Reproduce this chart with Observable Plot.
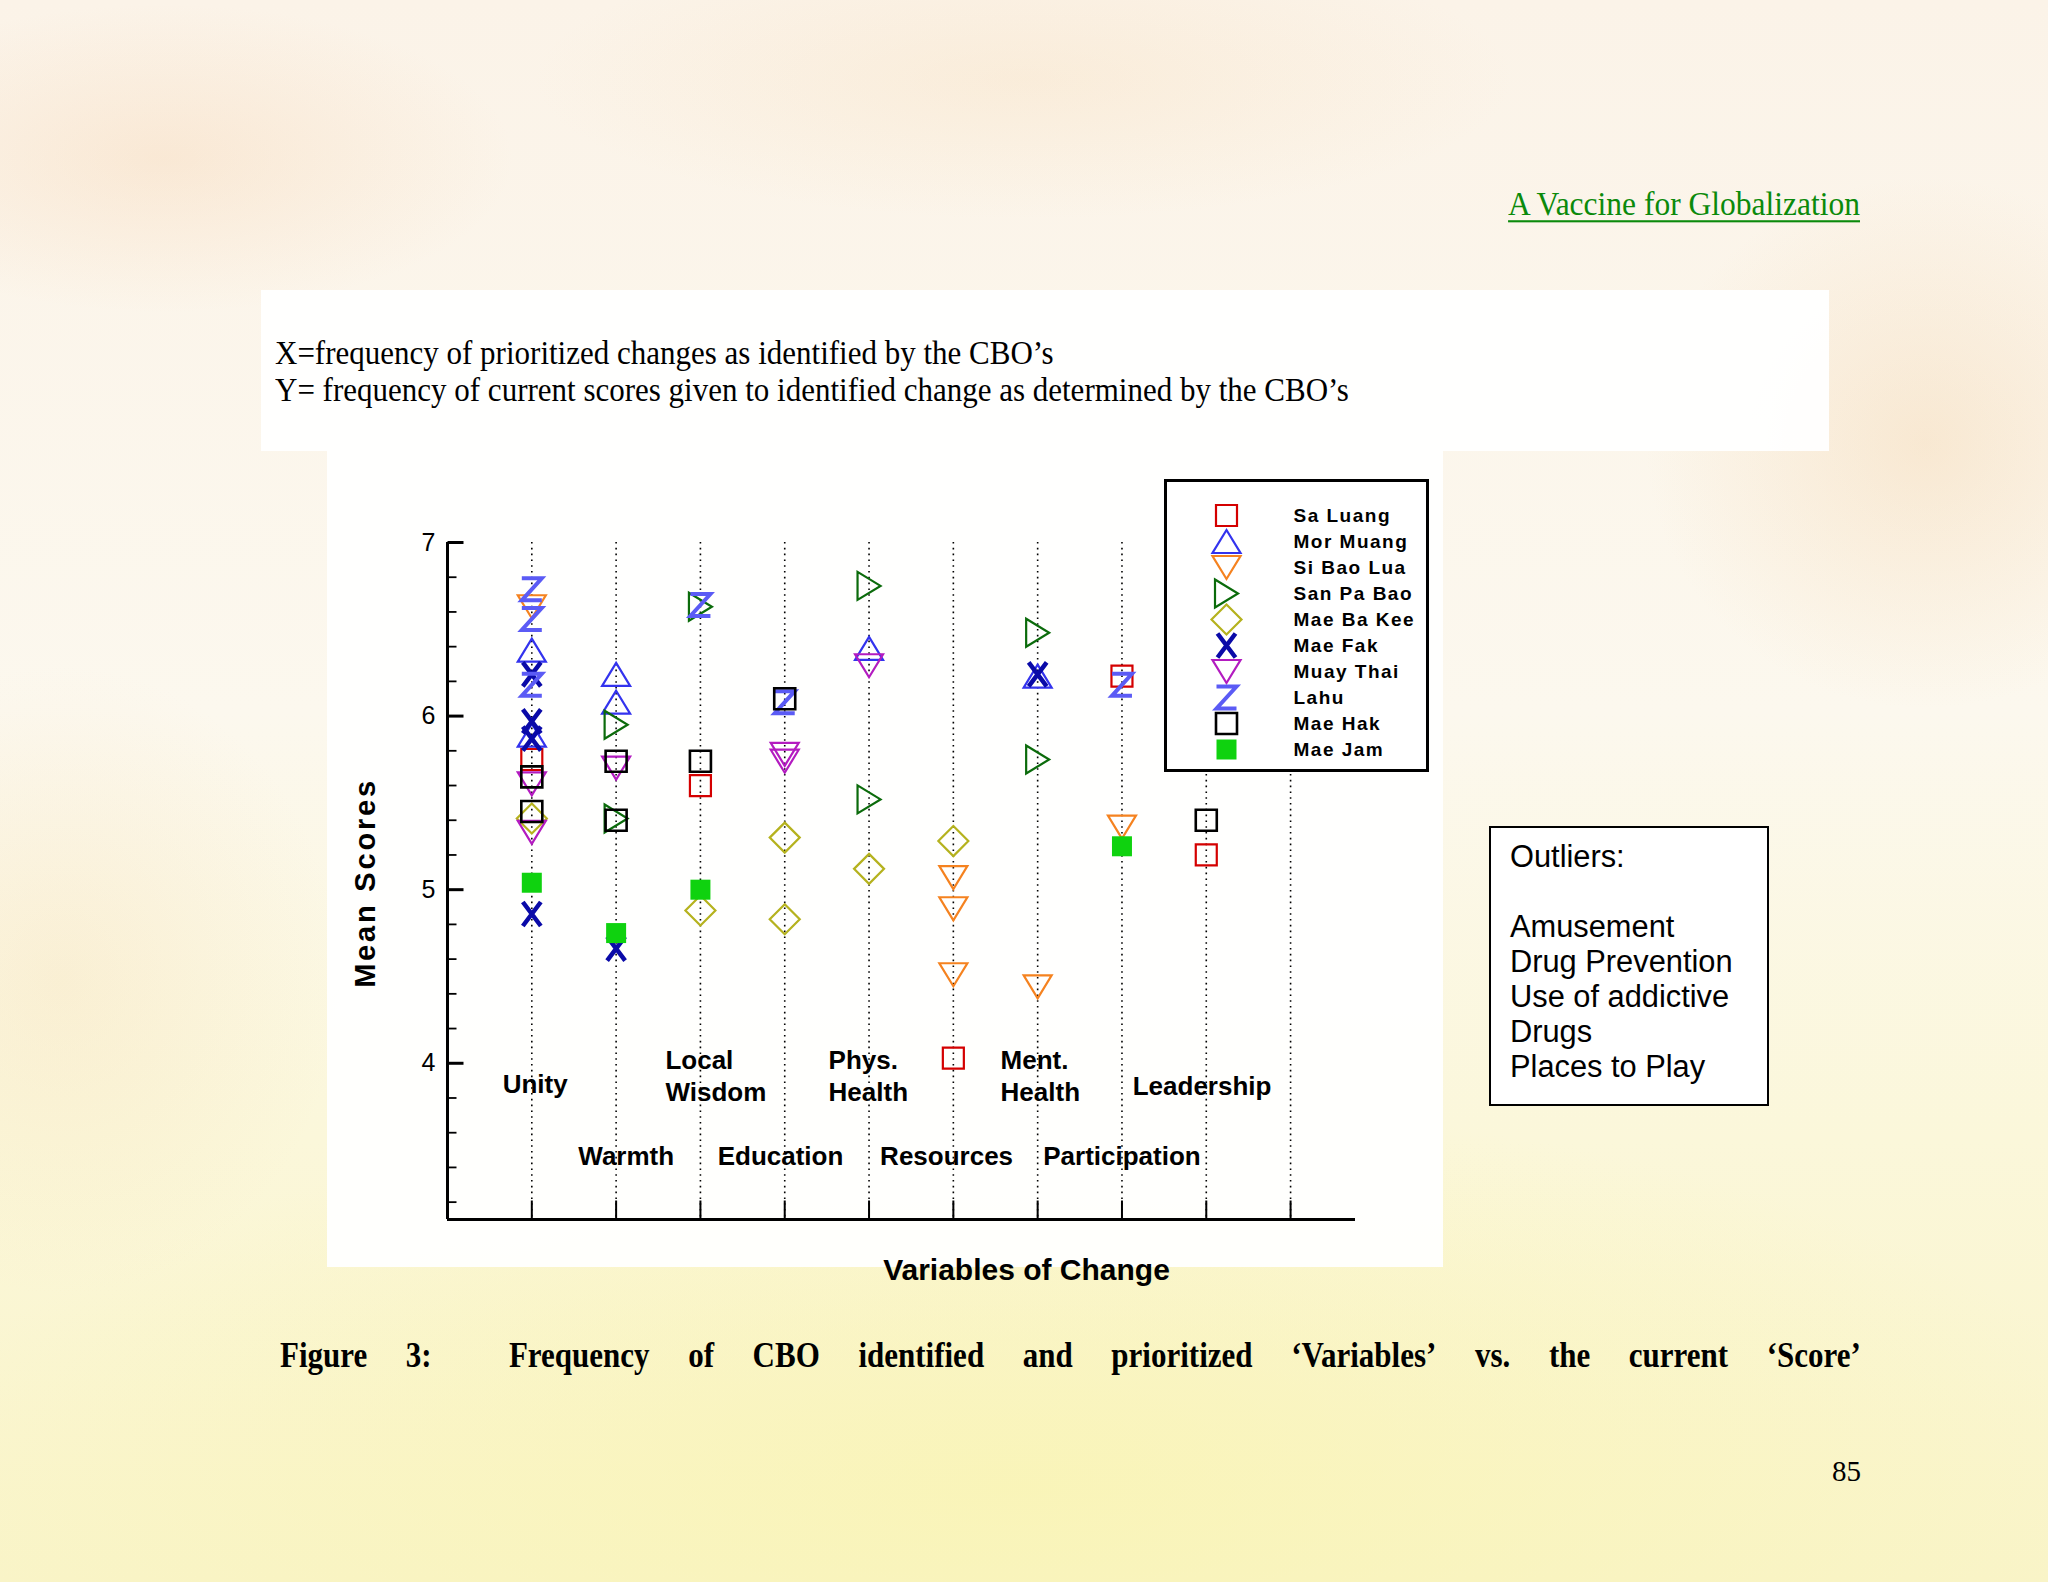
<!DOCTYPE html>
<html>
<head>
<meta charset="utf-8">
<script src="https://cdn.jsdelivr.net/npm/d3@7"></script>
<script src="https://cdn.jsdelivr.net/npm/@observablehq/plot@0.6"></script>
<style>
html,body{margin:0;padding:0;}
body{width:2048px;height:1582px;position:relative;overflow:hidden;
background:
 radial-gradient(ellipse 500px 220px at 8% 10%, rgba(245,205,165,0.30), transparent 70%),
 radial-gradient(ellipse 400px 380px at 94% 28%, rgba(240,200,150,0.30), transparent 70%),
 radial-gradient(ellipse 700px 200px at 50% 5%, rgba(246,218,180,0.28), transparent 70%),
 radial-gradient(ellipse 400px 450px at 3% 62%, rgba(245,218,175,0.28), transparent 70%),
 radial-gradient(ellipse 1500px 520px at 50% 94%, rgba(249,244,178,0.75), transparent 75%),
 linear-gradient(#fbf3e8, #fcf8ee 45%, #fbf7da 72%, #f9f4c8);
}
.t{position:absolute;white-space:nowrap;line-height:1;}
.serif{font-family:"Liberation Serif","Times New Roman",serif;color:#000;}
.panel{position:absolute;background:rgba(255,255,255,0.94);}
.cap{position:absolute;left:280px;top:1341px;width:1581px;display:flex;justify-content:space-between;font-size:31px;line-height:1;font-weight:bold;transform:scaleY(1.18);transform-origin:left 84%;}
</style>
</head>
<body>
<div class="panel" style="left:261px;top:290px;width:1568px;height:161px;"></div>
<div class="panel" style="left:327px;top:451px;width:1116px;height:816px;"></div>

<div class="t serif" style="right:188px;top:189px;font-size:31.5px;color:#0b8a0b;text-decoration:underline;text-decoration-thickness:2px;text-underline-offset:5px;transform:scaleY(1.05);transform-origin:right 84%;">A Vaccine for Globalization</div>

<div class="t serif" style="left:275px;top:338px;font-size:31px;transform:scaleY(1.1);transform-origin:left 84%;">X=frequency of prioritized changes as identified by the CBO’s</div>
<div class="t serif" style="left:275px;top:374.5px;font-size:31px;transform:scaleY(1.1);transform-origin:left 84%;">Y= frequency of current scores given to identified change as determined by the CBO’s</div>

<div id="chart" style="position:absolute;left:340px;top:500px;"></div>

<div id="legend" style="position:absolute;left:1164px;top:479px;width:265px;height:293px;box-sizing:border-box;border:3px solid #000;background:#fff;"></div>

<div style="position:absolute;left:1489px;top:826px;width:280px;height:280px;box-sizing:border-box;border:2px solid #000;background:#fff;padding:11px 0 0 19px;font-family:'Liberation Sans',Arial,sans-serif;font-size:30.8px;line-height:35px;color:#000;white-space:nowrap;">Outliers:<br><br>Amusement<br>Drug Prevention<br>Use of addictive<br>Drugs<br>Places to Play</div>

<div class="cap serif"><span>Figure</span><span>3:</span><span></span><span>Frequency</span><span>of</span><span>CBO</span><span>identified</span><span>and</span><span>prioritized</span><span>‘Variables’</span><span>vs.</span><span>the</span><span>current</span><span>‘Score’</span></div>

<div class="t serif" style="right:187px;top:1457px;font-size:29px;">85</div>

<script>
// ---------- data ----------
const seriesNames = ["Sa Luang","Mor Muang","Si Bao Lua","San Pa Bao","Mae Ba Kee","Mae Fak","Muay Thai","Lahu","Mae Hak","Mae Jam"];
const seriesColors = ["#d40000","#3333ee","#f5821f","#0b6b0b","#b5b21e","#0a0aa8","#b31bc0","#5b5bf5","#000000","#0fd20f"];

// [frequency position, mean score]
const saLuang  = [[1,5.75],[3,5.60],[6,4.03],[8,6.23],[9,5.20]];
const morMuang = [[1,6.38],[1,5.89],[2,6.24],[2,6.08],[5,6.39],[7,6.23]];
const siBaoLua = [[1,6.63],[6,5.07],[6,4.89],[6,4.51],[7,4.44],[8,5.36]];
const sanPaBao = [[2,5.95],[2,5.41],[3,6.63],[5,6.75],[5,5.52],[7,6.48],[7,5.75]];
const maeBaKee = [[1,5.41],[3,4.88],[4,5.30],[4,4.83],[5,5.12],[6,5.28]];
const maeFak   = [[1,6.24],[1,5.97],[1,5.87],[1,4.86],[2,4.66],[7,6.24]];
const muayThai = [[1,5.61],[1,5.33],[2,5.70],[4,5.78],[4,5.74],[5,6.29]];
const lahu     = [[1,6.73],[1,6.56],[1,6.18],[3,6.64],[4,6.08],[8,6.18]];
const maeHak   = [[1,5.65],[1,5.45],[2,5.74],[2,5.40],[3,5.74],[4,6.10],[9,5.40]];
const maeJam   = [[1,5.04],[2,4.75],[3,5.00],[8,5.25]];
const seriesData = [saLuang, morMuang, siBaoLua, sanPaBao, maeBaKee, maeFak, muayThai, lahu, maeHak, maeJam];

// in-plot category labels: [text, x, y, anchor]
const categoryLabels = [
  ["Unity", 1.04, 3.885, "middle"],
  ["Warmth", 2.12, 3.47, "middle"],
  ["Local\nWisdom", 2.585, 3.932, "start"],
  ["Education", 3.95, 3.47, "middle"],
  ["Phys.\nHealth", 4.52, 3.932, "start"],
  ["Resources", 5.92, 3.47, "middle"],
  ["Ment.\nHealth", 6.56, 3.932, "start"],
  ["Participation", 8.0, 3.47, "middle"],
  ["Leadership", 8.95, 3.877, "middle"]
];

const xTicks = [1,2,3,4,5,6,7,8,9,10];
const yMajor = [4,5,6,7];
const yMinor = [3.2,3.4,3.6,3.8,4.2,4.4,4.6,4.8,5.2,5.4,5.6,5.8,6.2,6.4,6.6,6.8];
const xDomain = [0, 10.77];
const yDomain = [3.1, 7];

// ---------- symbols ----------
const poly = pts => ({draw(c){ c.moveTo(pts[0][0], pts[0][1]); for (const p of pts.slice(1)) c.lineTo(p[0], p[1]); c.closePath(); }});
const symbols = [
  poly([[-10.5,-10.5],[10.5,-10.5],[10.5,10.5],[-10.5,10.5]]),          // square
  poly([[0,-11.5],[14,11.5],[-14,11.5]]),                                 // triangle up
  poly([[-14,-11.5],[14,-11.5],[0,11.5]]),                                // triangle down
  poly([[-11.5,-14],[11.5,0],[-11.5,14]]),                                // triangle right
  poly([[0,-15],[15,0],[0,15],[-15,0]]),                                  // diamond
  {draw(c){ c.moveTo(-9,-12); c.lineTo(9,12); c.moveTo(9,-12); c.lineTo(-9,12); }}, // X
  poly([[-14,-11.5],[14,-11.5],[0,11.5]]),                                // triangle down
  {draw(c){ c.moveTo(-10,-11); c.lineTo(10,-11); c.lineTo(-10,11); c.lineTo(10,11); }}, // Z
  poly([[-10.5,-10.5],[10.5,-10.5],[10.5,10.5],[-10.5,10.5]]),          // square
  poly([[-10,-10],[10,-10],[10,10],[-10,10]])                            // filled square
];
const strokeWidths = [2.2,2.2,2.2,2.2,2.2,4.5,2.2,4,2.6,0];
const filled = [false,false,false,false,false,false,false,false,false,true];

const tickRight = len => ({draw(c){ c.moveTo(0,0); c.lineTo(len,0); }});
const tickUp = len => ({draw(c){ c.moveTo(0,0); c.lineTo(0,-len); }});

function seriesMark(i, data, extra) {
  return Plot.dot(data, {
    ...extra,
    symbol: symbols[i],
    r: 10,
    fill: filled[i] ? seriesColors[i] : "none",
    stroke: filled[i] ? "none" : seriesColors[i],
    strokeWidth: strokeWidths[i],
    strokeLinejoin: "miter",
    strokeLinecap: "butt"
  });
}

const font = "'Liberation Sans', Arial, Helvetica, sans-serif";
const labelStyle = {x: d => d[1], y: d => d[2], text: d => d[0], fontSize: 26, fontWeight: "bold", lineHeight: 1.22, fill: "#000"};

const chart = Plot.plot({
  width: 1060, height: 820,
  marginLeft: 107, marginRight: 45, marginTop: 42, marginBottom: 101,
  x: {domain: xDomain, axis: null},
  y: {domain: yDomain},
  style: {fontFamily: font, background: "transparent", maxWidth: "none", overflow: "visible", color: "#000"},
  marks: [
    Plot.ruleX(xTicks, {stroke: "#000", strokeWidth: 1.6, strokeDasharray: "1.6,4.2"}),
    Plot.ruleX([xDomain[0]], {stroke: "#000", strokeWidth: 3}),
    Plot.ruleY([yDomain[0]], {stroke: "#000", strokeWidth: 3}),
    Plot.dot(yMajor, {y: d => d, frameAnchor: "left", symbol: tickRight(16), stroke: "#000", strokeWidth: 3, r: 5}),
    Plot.dot(yMinor, {y: d => d, frameAnchor: "left", symbol: tickRight(9), stroke: "#000", strokeWidth: 1.8, r: 5}),
    Plot.dot(xTicks, {x: d => d, frameAnchor: "bottom", symbol: tickUp(19), stroke: "#000", strokeWidth: 2, r: 5}),
    Plot.axisY({ticks: yMajor, tickSize: 0, tickPadding: 12, fontSize: 25, label: null, tickFormat: d => String(d)}),
    Plot.text(categoryLabels.filter(d => d[3] === "middle"), {...labelStyle, textAnchor: "middle"}),
    Plot.text(categoryLabels.filter(d => d[3] === "start"), {...labelStyle, textAnchor: "start"}),
    ...seriesData.map((data, i) => seriesMark(i, data, {x: d => d[0], y: d => d[1]})),
    Plot.text(["Mean Scores"], {frameAnchor: "left", textAnchor: "middle", lineAnchor: "middle", dx: -82, dy: 2, rotate: -90, fontSize: 29, fontWeight: "bold", fill: "#000"}),
    Plot.text(["Variables of Change"], {frameAnchor: "bottom", textAnchor: "middle", lineAnchor: "middle", dx: 125, dy: 51, fontSize: 30, fontWeight: "bold", fill: "#000"})
  ]
});
d3.select(chart).selectAll("text").filter(function() { return this.textContent === "Mean Scores"; })
  .style("letter-spacing", "2.8px");
document.getElementById("chart").appendChild(chart);

const legend = Plot.plot({
  width: 259, height: 287,
  margin: 0,
  x: {axis: null},
  y: {type: "point", domain: seriesNames, range: [31.3, 269], padding: 0, axis: null},
  style: {fontFamily: font, background: "transparent", maxWidth: "none", overflow: "visible", color: "#000", letterSpacing: "1.5px"},
  marks: [
    ...seriesNames.map((name, i) => seriesMark(i, [name], {y: d => d, frameAnchor: "left", dx: 59})),
    Plot.text(seriesNames, {y: d => d, frameAnchor: "left", dx: 126, textAnchor: "start", fontSize: 19, fontWeight: "bold", fill: "#000"})
  ]
});
document.getElementById("legend").appendChild(legend);
</script>
</body>
</html>
